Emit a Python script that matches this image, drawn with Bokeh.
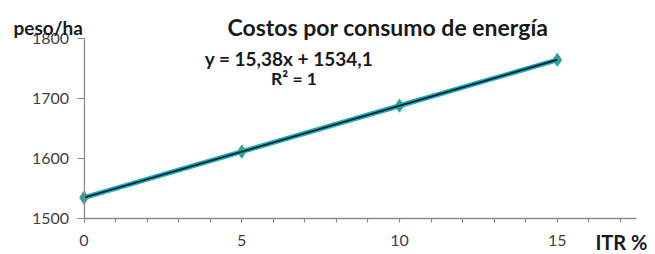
from bokeh.plotting import figure
from bokeh.models import Range1d, FixedTicker, Label
from bokeh.embed import file_html
from bokeh.resources import INLINE

# data
itr = [0, 5, 10, 15]
costos = [1534.1, 1611.0, 1687.9, 1764.8]
slope = 15.38
intercept = 1534.1
trend_x = [0, 15]
trend_y = [intercept + slope * v for v in trend_x]

y_ticks = [1500, 1600, 1700, 1800]
x_ticks = list(range(0, 18))
x_labels = {0: "0", 5: "5", 10: "10", 15: "15"}

title_text = "Costos por consumo de energía"
eq_text = "y = 15,38x + 1534,1"
r2_text = "R² = 1"
ylab = "peso/ha"
xlab = "ITR %"

FONT = "Lato"

p = figure(width=652, height=253, output_backend="svg", toolbar_location=None,
           x_range=Range1d(-2.6466, 18.019), y_range=Range1d(1440.6, 1864.1),
           min_border_left=0, min_border_right=0, min_border_top=0, min_border_bottom=0)
p.outline_line_color = None
p.xgrid.visible = False
p.ygrid.visible = False
p.background_fill_color = "white"
p.border_fill_color = "white"

# axes (library axes, fixed at the data origin)
for ax in (p.xaxis[0], p.yaxis[0]):
    ax.axis_line_color = "#8a8a8a"
    ax.axis_line_width = 1.3
    ax.major_tick_line_color = "#8a8a8a"
    ax.major_tick_line_width = 1.2
    ax.minor_tick_line_color = None
    ax.major_tick_in = 0
    ax.major_label_text_font = FONT
    ax.major_label_text_font_size = "16px"
    ax.major_label_text_color = "#404040"

p.xaxis.fixed_location = 1500
p.xaxis.bounds = (0, 17.5)
p.xaxis.ticker = FixedTicker(ticks=x_ticks)
p.xaxis.major_label_overrides = {t: x_labels.get(t, "") for t in x_ticks}
p.xaxis.major_tick_out = 4
p.xaxis.major_label_standoff = 13

p.yaxis.fixed_location = 0
p.yaxis.bounds = (1500, 1800)
p.yaxis.ticker = FixedTicker(ticks=y_ticks)
p.yaxis.major_tick_out = 7
p.yaxis.major_label_standoff = 8

# series line with markers
p.line(itr, costos, line_color="#1db3b9", line_width=5)
p.scatter(itr, costos, marker="diamond", size=13, fill_color="#22a898", line_color="#22a898")
# trendline
p.line(trend_x, trend_y, line_color="#0b2238", line_width=2)

def lab(x, y, text, size, align="center"):
    p.add_layout(Label(x=x, y=y, text=text, text_font=FONT, text_font_size=size,
                       text_font_style="bold", text_color="#1a1a1a",
                       text_align=align, text_baseline="alphabetic"))

lab(9.635, 1819.5, title_text, "23px")
lab(6.498, 1766.6, eq_text, "19px")
lab(6.656, 1733.1, r2_text, "17.5px")
lab(-2.2345, 1819.5, ylab, "19px", align="left")
lab(17.86, 1460.0, xlab, "20px", align="right")

open("out.html", "w").write(file_html(p, INLINE))
